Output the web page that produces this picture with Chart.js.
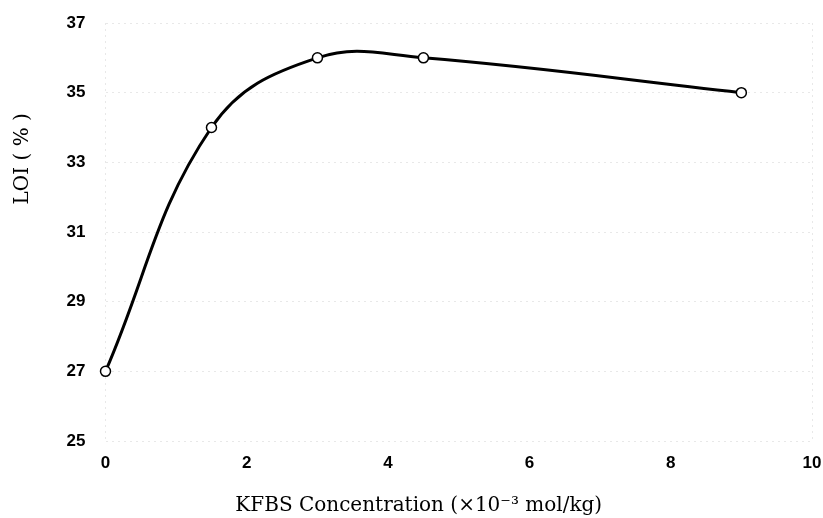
<!DOCTYPE html>
<html><head><meta charset="utf-8">
<script src="https://cdn.jsdelivr.net/npm/chart.js@4/dist/chart.umd.min.js"></script>
<style>html,body{margin:0;padding:0;background:#fff}#wrap{width:823px;height:518px}</style>
</head><body><div id="wrap"><canvas id="c" width="823" height="518"></canvas></div>
<script>
const concentrations = [0, 1.5, 3, 4.5, 9];
const loiValues = [27, 34, 36, 36, 35];
const xTicks = [0, 2, 4, 6, 8, 10];
const yTicks = [25, 27, 29, 31, 33, 35, 37];
const xTitle = 'KFBS Concentration (\u00D710\u207B\u00B3 mol/kg)';
const yTitle = 'LOI ( % )';

const points = concentrations.map((x, i) => ({x: x, y: loiValues[i]}));
const tickFont = {family: '"Liberation Sans", Arial, sans-serif', size: 17, weight: 'bold'};
const titleFont = {family: '"DejaVu Serif", "Liberation Serif", serif', size: 20};
const faint = 'rgba(0,0,0,0.09)';

new Chart(document.getElementById('c'), {
  type: 'line',
  data: {datasets: [{
    data: points,
    borderColor: '#000',
    borderWidth: 3,
    tension: 0.4,
    clip: false,
    pointRadius: 5,
    pointBackgroundColor: '#fff',
    pointBorderColor: '#000',
    pointBorderWidth: 1.5,
    fill: false
  }]},
  options: {
    responsive: false,
    animation: false,
    events: [],
    layout: {padding: {top: 23, right: 11, left: 0, bottom: 0}},
    plugins: {legend: {display: false}, tooltip: {enabled: false}},
    scales: {
      x: {
        type: 'linear', min: 0, max: 10,
        afterBuildTicks: s => { s.ticks = xTicks.map(v => ({value: v})); },
        afterFit: s => { s.height = 77; s.paddingLeft = 0; s.paddingRight = 0; },
        ticks: {font: tickFont, color: '#000', padding: 12},
        grid: {drawTicks: false, lineWidth: 1,
               color: c => (c.tick && (c.tick.value === 0 || c.tick.value === 10)) ? faint : 'rgba(0,0,0,0)'},
        border: {display: false, dash: [2, 4]},
        title: {display: true, text: xTitle + '\u2003\u2003\u2003\u2003', font: titleFont, color: '#000', padding: {top: 0, bottom: 0}}
      },
      y: {
        type: 'linear', min: 25, max: 37,
        afterBuildTicks: s => { s.ticks = yTicks.map(v => ({value: v})); },
        afterFit: s => { s.width = 105.5; s.paddingTop = 0; s.paddingBottom = 0; },
        ticks: {font: tickFont, color: '#000', padding: 20},
        grid: {drawTicks: false, lineWidth: 1, color: faint},
        border: {display: false, dash: [2, 4]},
        title: {display: true, text: '\u2003\u2003\u2003\u2003\u2003\u2003\u2003 ' + yTitle, font: titleFont, color: '#000', padding: {top: 11, bottom: 0}}
      }
    }
  },
  plugins: [{
    id: 'dashGrid',
    beforeDraw(chart) {
      ['x', 'y'].forEach(id => {
        const g = chart.scales[id].options.grid;
        g.borderDash = [2, 4];
      });
    }
  }]
});
</script></body></html>
